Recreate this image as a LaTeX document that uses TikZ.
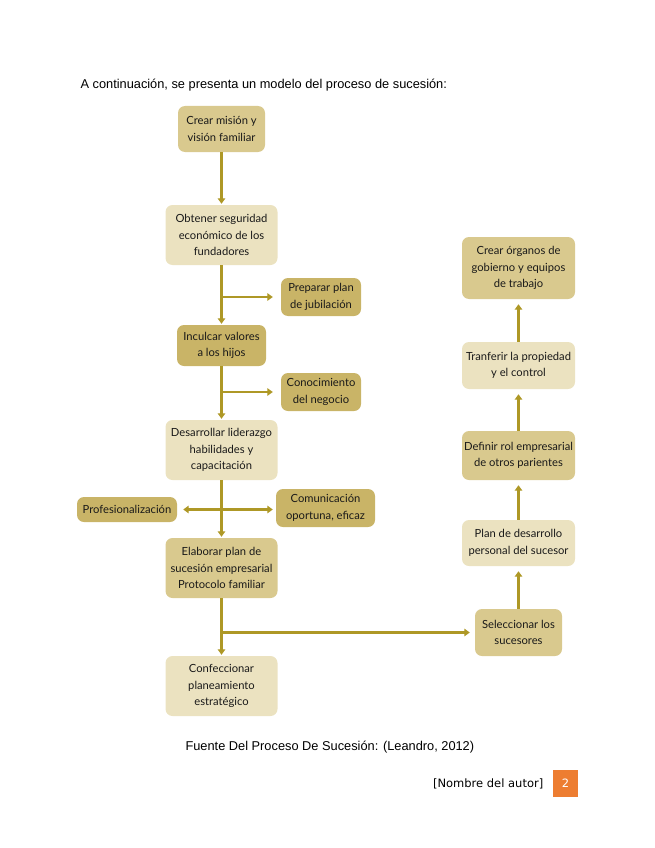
\documentclass[tikz,border=0pt]{standalone}
\usepackage{fontspec}
\setmainfont{Liberation Sans}
\newfontfamily\boxfont{Lato}
\newfontfamily\footfont{DejaVu Sans}
\usetikzlibrary{arrows.meta}

\definecolor{olive}{HTML}{AE9826}
\definecolor{tandark}{HTML}{C9B467}
\definecolor{tanmid}{HTML}{D9C98E}
\definecolor{tanlight}{HTML}{EBE2C0}
\definecolor{pageorange}{HTML}{ED7D31}

\tikzset{
  stage/.style={rounded corners=7pt, align=center, inner sep=0pt,
    font=\boxfont\fontsize{11.2}{16.5}\selectfont, text=black!90},
  flow/.style={draw=olive, line width=2.4pt, -{Triangle[width=7.5pt,length=5.5pt]}},
  twoway/.style={draw=olive, line width=2.4pt, {Triangle[width=7.5pt,length=5.5pt]}-{Triangle[width=7.5pt,length=5.5pt]}}
}

\begin{document}
\begin{tikzpicture}[x=1pt,y=-1pt]
\useasboundingbox (0,0) rectangle (655,848);

\node[anchor=base west, font=\fontsize{12.8}{15}\selectfont] (intro) at (77,89)
  {A continuación, se presenta un modelo del proceso de sucesión:};

% left column
\node[stage, fill=tanmid, minimum width=87pt, minimum height=46pt] (mision) at (221.5,129) {Crear misión y\\visión familiar};
\node[stage, fill=tanlight, minimum width=112pt, minimum height=60pt] (seguridad) at (221.5,235) {Obtener seguridad\\económico de los\\fundadores};
\node[stage, fill=tandark, minimum width=80pt, minimum height=38pt] (jubilacion) at (321,297) {Preparar plan\\de jubilación};
\node[stage, fill=tandark, minimum width=89pt, minimum height=41pt] (valores) at (221.5,345.5) {Inculcar valores\\a los hijos};
\node[stage, fill=tandark, minimum width=80pt, minimum height=38pt] (negocio) at (321,392) {Conocimiento\\del negocio};
\node[stage, fill=tanlight, minimum width=112pt, minimum height=60pt] (liderazgo) at (221.5,450) {Desarrollar liderazgo\\habilidades y\\capacitación};
\node[stage, fill=tandark, minimum width=100pt, minimum height=25pt] (profesional) at (127,509.5) {Profesionalización};
\node[stage, fill=tandark, minimum width=99pt, minimum height=38pt] (comunicacion) at (325.5,508) {Comunicación\\oportuna, eficaz};
\node[stage, fill=tanmid, minimum width=112pt, minimum height=60pt] (elaborar) at (221.5,568) {Elaborar plan de\\sucesión empresarial\\Protocolo familiar};
\node[stage, fill=tanlight, minimum width=112pt, minimum height=60pt] (confeccionar) at (221.5,686) {Confeccionar\\planeamiento\\estratégico};

% right column
\node[stage, fill=tanmid, minimum width=87pt, minimum height=47pt] (seleccionar) at (518.5,632.5) {Seleccionar los\\sucesores};
\node[stage, fill=tanlight, minimum width=113pt, minimum height=46pt] (plandesarrollo) at (518.5,543) {Plan de desarrollo\\personal del sucesor};
\node[stage, fill=tanmid, minimum width=113pt, minimum height=49pt] (definir) at (518.5,455.5) {Definir rol empresarial\\de otros parientes};
\node[stage, fill=tanlight, minimum width=113pt, minimum height=47pt] (transferir) at (518.5,365.5) {Tranferir la propiedad\\y el control};
\node[stage, fill=tanmid, minimum width=113pt, minimum height=62pt] (organos) at (518.5,268) {Crear órganos de\\gobierno y equipos\\de trabajo};

% main flow
\draw[flow, shorten >=1pt] (mision) -- (seguridad);
\draw[flow, shorten >=1pt] (seguridad) -- (valores);
\draw[flow] (seguridad.south |- jubilacion.west) -- ([xshift=-8pt]jubilacion.west);
\draw[flow, shorten >=1pt] (valores) -- (liderazgo);
\draw[flow] (valores.south |- negocio.west) -- ([xshift=-8pt]negocio.west);
\draw[flow, shorten >=1pt] (liderazgo) -- (elaborar);
\draw[twoway] ([xshift=6pt]profesional.east) -- ([xshift=-3pt]comunicacion.west |- profesional.east);
\draw[flow, shorten >=1pt] (elaborar) -- (confeccionar);
\draw[flow] (elaborar.south |- seleccionar.west) -- ([xshift=-5pt]seleccionar.west);

% successor flow
\draw[flow, shorten >=5pt] (seleccionar) -- (plandesarrollo);
\draw[flow, shorten >=5pt] (plandesarrollo) -- (definir);
\draw[flow, shorten >=5pt] (definir) -- (transferir);
\draw[flow, shorten >=5pt] (transferir) -- (organos);

\node[anchor=base west, font=\fontsize{12.8}{15}\selectfont] (fuente) at (182,750)
  {Fuente Del Proceso De Sucesión: (Leandro, 2012)};

\node[fill=pageorange, minimum width=25pt, minimum height=27pt, inner sep=0pt,
  text=white, font=\footfont\fontsize{11.5}{14}\selectfont] (pagina) at (565.5,783.5) {2};
\node[anchor=east, font=\footfont\fontsize{11.5}{14}\selectfont] (autor) at ([xshift=-6pt]pagina.west) {[Nombre del autor]};
\end{tikzpicture}
\end{document}
